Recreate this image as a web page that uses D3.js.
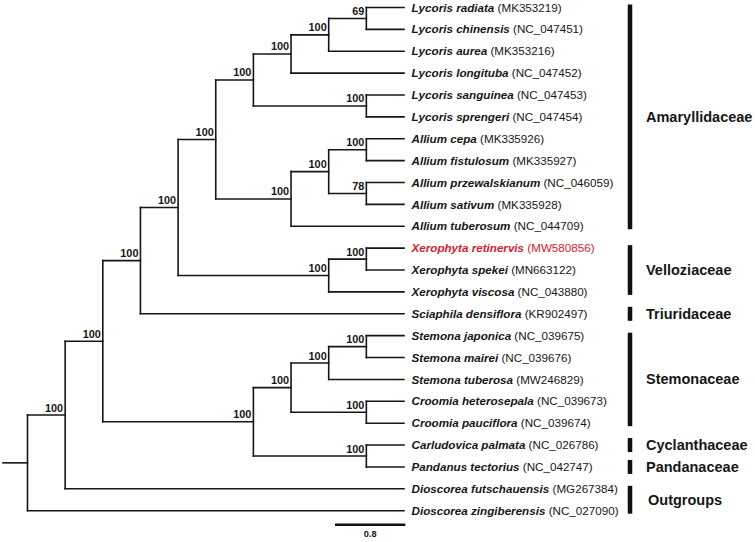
<!DOCTYPE html>
<html><head><meta charset="utf-8">
<script src="https://cdn.jsdelivr.net/npm/d3@7"></script>
<style>
html,body{margin:0;padding:0;background:#fff;}
svg{display:block;font-family:"Liberation Sans",Arial,sans-serif;}
</style></head>
<body>
<svg id="chart" width="755" height="542"></svg>
<script>
// Topology with bootstrap support (Newick), leaves in display order
const newick = "((((((((((Lycoris_radiata,Lycoris_chinensis)69,Lycoris_aurea)100,Lycoris_longituba)100,(Lycoris_sanguinea,Lycoris_sprengeri)100)100,(((Allium_cepa,Allium_fistulosum)100,(Allium_przewalskianum,Allium_sativum)78)100,Allium_tuberosum)100)100,((Xerophyta_retinervis,Xerophyta_spekei)100,Xerophyta_viscosa)100)100,Sciaphila_densiflora)100,((((Stemona_japonica,Stemona_mairei)100,Stemona_tuberosa)100,(Croomia_heterosepala,Croomia_pauciflora)100)100,(Carludovica_palmata,Pandanus_tectorius)100)100)100,Dioscorea_futschauensis)100,Dioscorea_zingiberensis);";

const taxa = ["Lycoris radiata","Lycoris chinensis","Lycoris aurea","Lycoris longituba","Lycoris sanguinea","Lycoris sprengeri","Allium cepa","Allium fistulosum","Allium przewalskianum","Allium sativum","Allium tuberosum","Xerophyta retinervis","Xerophyta spekei","Xerophyta viscosa","Sciaphila densiflora","Stemona japonica","Stemona mairei","Stemona tuberosa","Croomia heterosepala","Croomia pauciflora","Carludovica palmata","Pandanus tectorius","Dioscorea futschauensis","Dioscorea zingiberensis"];
const accessions = ["MK353219","NC_047451","MK353216","NC_047452","NC_047453","NC_047454","MK335926","MK335927","NC_046059","MK335928","NC_044709","MW580856","MN663122","NC_043880","KR902497","NC_039675","NC_039676","MW246829","NC_039673","NC_039674","NC_026786","NC_042747","MG267384","NC_027090"];
const highlighted = ["Xerophyta retinervis"];

const families = ["Amaryllidaceae","Velloziaceae","Triuridaceae","Stemonaceae","Cyclanthaceae","Pandanaceae","Outgroups"];
const familyFirst = [0, 11, 14, 15, 20, 21, 22];
const familyLast  = [10, 13, 14, 19, 20, 21, 23];

const scaleBarValue = 0.8;

function parseNewick(s) {
  let i = 0;
  function node() {
    const n = {children: []};
    if (s[i] === "(") {
      i++;
      n.children.push(node());
      while (s[i] === ",") { i++; n.children.push(node()); }
      if (s[i] !== ")") throw new Error("bad newick at " + i);
      i++;
    }
    let lab = "";
    while (i < s.length && !",();".includes(s[i])) lab += s[i++];
    if (n.children.length) { n.support = lab; } else { n.name = lab.replace(/_/g, " "); }
    if (!n.children.length) delete n.children;
    return n;
  }
  return node();
}

const root = d3.hierarchy(parseNewick(newick));
const maxH = root.height;

const svg = d3.select("#chart");
const x = d3.scaleLinear().domain([0, maxH]).range([27.5, 404]);
const y = d3.scaleLinear().domain([0, taxa.length - 1]).range([7.5, 510.7]);

root.eachAfter(n => {
  n.px = x(maxH - n.height);
  if (!n.children) n.py = y(taxa.indexOf(n.data.name));
  else n.py = (n.children[0].py + n.children[n.children.length - 1].py) / 2;
});

const g = svg.append("g").attr("fill","none").attr("stroke","#161616").attr("stroke-width",1.6).attr("stroke-linecap","square");

g.append("line").attr("x1", 3).attr("x2", root.px).attr("y1", root.py).attr("y2", root.py);

root.descendants().forEach(n => {
  if (n.children) {
    g.append("line").attr("x1", n.px).attr("x2", n.px)
      .attr("y1", n.children[0].py).attr("y2", n.children[n.children.length-1].py);
  }
  if (n.parent) {
    g.append("line").attr("x1", n.parent.px).attr("x2", n.px).attr("y1", n.py).attr("y2", n.py);
  }
});

svg.append("g").selectAll("text")
  .data(root.descendants().filter(n => n.children && n.data.support))
  .join("text")
  .attr("x", n => n.px - 2).attr("y", n => n.py - 3.5)
  .attr("text-anchor","end").attr("font-size", 10.9).attr("font-weight","bold").attr("fill","#161616")
  .text(n => n.data.support);

const leaves = svg.append("g").selectAll("text")
  .data(root.leaves())
  .join("text")
  .attr("x", 411.5).attr("y", n => n.py + 4.1)
  .attr("font-size", 11.65)
  .attr("fill", n => highlighted.includes(n.data.name) ? "#d6202f" : "#161616");
leaves.append("tspan").attr("font-style","italic").attr("font-weight","bold").text(n => n.data.name);
leaves.append("tspan").text(n => " (" + accessions[taxa.indexOf(n.data.name)] + ")");

const fam = svg.append("g");
families.forEach((f, k) => {
  const y1 = y(familyFirst[k]), y2 = y(familyLast[k]);
  const pad = familyFirst[k] === familyLast[k] ? 7 : 3;
  fam.append("line").attr("x1", 630).attr("x2", 630).attr("y1", y1 - pad).attr("y2", y2 + pad)
    .attr("stroke", "#111").attr("stroke-width", 4.5);
  fam.append("text").attr("x", f === "Outgroups" ? 648 : 646).attr("y", (y1 + y2) / 2 + 5)
    .attr("font-size", 14.5).attr("font-weight","bold").attr("fill","#161616").text(f);
});

const bl = d3.scaleLinear().domain([0, scaleBarValue]).range([335, 405.3]);
svg.append("line").attr("x1", bl(0)).attr("x2", bl(scaleBarValue)).attr("y1", 524.7).attr("y2", 524.7)
  .attr("stroke","#111").attr("stroke-width", 2.6);
svg.append("text").attr("x", (bl(0) + bl(scaleBarValue)) / 2).attr("y", 537.3)
  .attr("text-anchor","middle").attr("font-size", 9.2).attr("font-weight","bold").attr("fill","#161616")
  .text(scaleBarValue);
</script>
</body></html>
